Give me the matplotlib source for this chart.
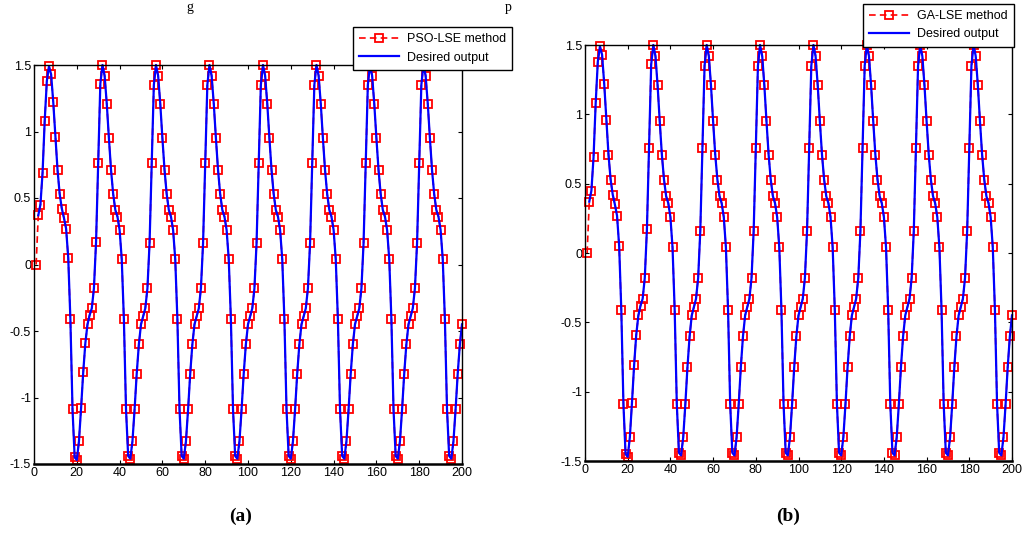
import matplotlib.pyplot as plt

plt.rcParams['font.family'] = ['Liberation Sans', 'DejaVu Sans']
plt.rcParams['axes.unicode_minus'] = False

# Desired output, samples x = 2..200
desired_output = [
    0.37, 0.45, 0.69, 1.08, 1.38,
    1.49, 1.43, 1.22, 0.96, 0.71, 0.53, 0.42, 0.35, 0.27, 0.05, -0.41, -1.09, -1.45,
    -1.47, -1.33, -1.08, -0.81, -0.59, -0.45, -0.38, -0.33, -0.18, 0.17, 0.76, 1.36,
    1.50, 1.42, 1.21, 0.95, 0.71, 0.53, 0.41, 0.36, 0.26, 0.04, -0.41, -1.09, -1.44,
    -1.46, -1.33, -1.09, -0.82, -0.60, -0.45, -0.39, -0.33, -0.18, 0.16, 0.76, 1.35,
    1.50, 1.42, 1.21, 0.95, 0.71, 0.53, 0.41, 0.36, 0.26, 0.04, -0.41, -1.09, -1.44,
    -1.46, -1.33, -1.09, -0.82, -0.60, -0.45, -0.39, -0.33, -0.18, 0.16, 0.76, 1.35,
    1.50, 1.42, 1.21, 0.95, 0.71, 0.53, 0.41, 0.36, 0.26, 0.04, -0.41, -1.09, -1.44,
    -1.46, -1.33, -1.09, -0.82, -0.60, -0.45, -0.39, -0.33, -0.18, 0.16, 0.76, 1.35,
    1.50, 1.42, 1.21, 0.95, 0.71, 0.53, 0.41, 0.36, 0.26, 0.04, -0.41, -1.09, -1.44,
    -1.46, -1.33, -1.09, -0.82, -0.60, -0.45, -0.39, -0.33, -0.18, 0.16, 0.76, 1.35,
    1.50, 1.42, 1.21, 0.95, 0.71, 0.53, 0.41, 0.36, 0.26, 0.04, -0.41, -1.09, -1.44,
    -1.46, -1.33, -1.09, -0.82, -0.60, -0.45, -0.39, -0.33, -0.18, 0.16, 0.76, 1.35,
    1.50, 1.42, 1.21, 0.95, 0.71, 0.53, 0.41, 0.36, 0.26, 0.04, -0.41, -1.09, -1.44,
    -1.46, -1.33, -1.09, -0.82, -0.60, -0.45, -0.39, -0.33, -0.18, 0.16, 0.76, 1.35,
    1.50, 1.42, 1.21, 0.95, 0.71, 0.53, 0.41, 0.36, 0.26, 0.04, -0.41, -1.09, -1.44,
    -1.46, -1.33, -1.09, -0.82, -0.60, -0.45,
]
x_desired = list(range(2, 201))

# Identified outputs start from zero at x = 1 and then follow the plant
pso_output = [0.00] + desired_output
ga_output = [0.00] + desired_output
x_model = list(range(1, 201))

x_ticks = list(range(0, 201, 20))
y_ticks = [-1.5, -1, -0.5, 0, 0.5, 1, 1.5]
y_tick_labels = ['-1.5', '-1', '-0.5', '0', '0.5', '1', '1.5']

panel_labels = ['(a)', '(b)']
method_labels = ['PSO-LSE method', 'GA-LSE method']

W, H = 1024, 551
fig = plt.figure(figsize=(W / 100, H / 100), dpi=100)
ax_a = fig.add_axes([34 / W, 1 - 464 / H, 428 / W, 399 / H])
ax_b = fig.add_axes([585 / W, 1 - 461 / H, 427 / W, 416 / H])


def draw_panel(ax, model_out, label, legend_anchor):
    ax.plot(x_model, model_out, color='red', linestyle='--', marker='s',
            markersize=6, markerfacecolor='none', markeredgewidth=1.3,
            linewidth=1.2, dashes=(4, 2.5), clip_on=False, label=label)
    ax.plot(x_desired, desired_output, color='blue', linewidth=1.6,
            clip_on=False, label='Desired output')
    ax.set_xlim(0, 200)
    ax.set_ylim(-1.5, 1.5)
    ax.set_xticks(x_ticks)
    ax.set_yticks(y_ticks)
    ax.set_yticklabels(y_tick_labels)
    ax.tick_params(direction='in', top=True, right=True, length=3,
                   labelsize=9, pad=2, width=0.8)
    for s in ax.spines.values():
        s.set_linewidth(1.0)
    ax.spines['bottom'].set_linewidth(1.8)
    leg = ax.legend(loc='upper left', bbox_to_anchor=legend_anchor,
                    bbox_transform=fig.transFigure, fancybox=False,
                    framealpha=1, edgecolor='black', fontsize=9,
                    handlelength=3.2, borderaxespad=0, borderpad=0.5,
                    labelspacing=0.5, handletextpad=0.6)
    leg.get_frame().set_linewidth(1.0)
    leg.set_zorder(10)


draw_panel(ax_a, pso_output, method_labels[0], (353 / W, 1 - 27 / H))
draw_panel(ax_b, ga_output, method_labels[1], (863 / W, 1 - 4 / H))

# panel captions
fig.text(241 / W, 1 - 516 / H, panel_labels[0], ha='center', va='center',
         fontsize=14, fontweight='bold', family=['Liberation Serif', 'DejaVu Serif'])
fig.text(788 / W, 1 - 516 / H, panel_labels[1], ha='center', va='center',
         fontsize=14, fontweight='bold', family=['Liberation Serif', 'DejaVu Serif'])

# fragments of the page text just above the figure
fig.text(190 / W, 1 - 1 / H, 'g', ha='center', va='top', fontsize=10,
         family=['Liberation Serif', 'DejaVu Serif'])
fig.text(508 / W, 1 - 1 / H, 'p', ha='center', va='top', fontsize=10,
         family=['Liberation Serif', 'DejaVu Serif'])

fig.savefig('out.png', dpi=100)
